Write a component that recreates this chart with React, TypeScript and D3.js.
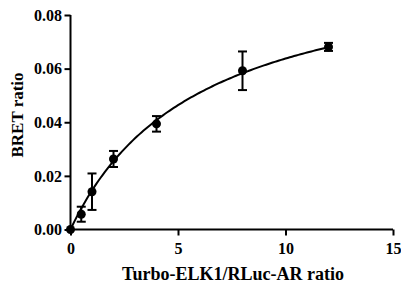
import React, { useEffect, useRef } from "react"
import * as d3 from "d3"

const ratios = [0, 0.5, 1, 2, 4, 8, 12]
const bretMeans = [0, 0.0057, 0.0141, 0.0263, 0.0394, 0.0592, 0.0681]
const bretErrors = [0, 0.0028, 0.0068, 0.003, 0.0029, 0.0072, 0.0015]
const xTicks = [0, 5, 10, 15]
const yTicks = [0, 0.02, 0.04, 0.06, 0.08]

// one-site saturation fit (Bmax * x / (Kd + x))
const fitBmax = 0.102
const fitKd = 6.0

const W = 401
const H = 284
const FONT = "Liberation Serif, Times New Roman, serif"

export default function App() {
  const svgRef = useRef<SVGSVGElement>(null)

  useEffect(() => {
    if (!svgRef.current) return
    const svg = d3.select(svgRef.current)
    svg.selectAll("*").remove()

    const x = d3.scaleLinear().domain([0, 15]).range([70.5, 393])
    const y = d3.scaleLinear().domain([0, 0.08]).range([229.5, 15])

    // axes
    const xAxis = svg.append("g")
      .attr("transform", `translate(0,${y(0)})`)
      .call(d3.axisBottom(x).tickValues(xTicks).tickSize(6).tickPadding(7).tickFormat(d3.format("d")))
    const yAxis = svg.append("g")
      .attr("transform", `translate(${x(0)},0)`)
      .call(d3.axisLeft(y).tickValues(yTicks).tickSize(6).tickPadding(2.5).tickFormat(d3.format(".2f")))

    for (const ax of [xAxis, yAxis]) {
      ax.attr("font-family", FONT).attr("font-size", 16).attr("font-weight", "bold")
      ax.select(".domain").attr("stroke", "#000").attr("stroke-width", 2)
      ax.selectAll(".tick line").attr("stroke", "#000").attr("stroke-width", 2)
      ax.selectAll(".tick text").attr("fill", "#000")
    }
    // GraphPad style: no outer tick caps
    xAxis.select(".domain").attr("d", `M${x(0)},0H${x(15)}`)
    yAxis.select(".domain").attr("d", `M0,${y(0)}V${y(0.08)}`)

    // fit curve
    const xs = d3.range(0, 12.0001, 0.1)
    const line = d3.line<number>()
      .x(d => x(d))
      .y(d => y(fitBmax * d / (fitKd + d)))
    svg.append("path")
      .datum(xs)
      .attr("fill", "none")
      .attr("stroke", "#000")
      .attr("stroke-width", 2)
      .attr("d", line)

    // error bars
    const g = svg.append("g")
    ratios.forEach((r, i) => {
      const e = bretErrors[i]
      if (!e) return
      const cx = x(r)
      const top = y(bretMeans[i] + e)
      const bot = y(bretMeans[i] - e)
      g.append("line").attr("x1", cx).attr("x2", cx).attr("y1", top).attr("y2", bot)
        .attr("stroke", "#000").attr("stroke-width", 2)
      for (const yy of [top, bot]) {
        g.append("line").attr("x1", cx - 4.5).attr("x2", cx + 4.5).attr("y1", yy).attr("y2", yy)
          .attr("stroke", "#000").attr("stroke-width", 2)
      }
    })

    // points
    svg.append("g")
      .selectAll("circle")
      .data(ratios)
      .enter().append("circle")
      .attr("cx", d => x(d))
      .attr("cy", (_, i) => y(bretMeans[i]))
      .attr("r", 4.5)
      .attr("fill", "#000")

    // axis titles
    svg.append("text")
      .attr("x", 233)
      .attr("y", 280)
      .attr("text-anchor", "middle")
      .attr("font-family", FONT)
      .attr("font-weight", "bold")
      .attr("font-size", 18)
      .text("Turbo-ELK1/RLuc-AR ratio")

    svg.append("text")
      .attr("transform", `translate(23,115) rotate(-90)`)
      .attr("text-anchor", "middle")
      .attr("font-family", FONT)
      .attr("font-weight", "bold")
      .attr("font-size", 17)
      .text("BRET ratio")
  }, [])

  return (
    <div style={{ position: "fixed", left: 0, top: 0 }}>
      <svg ref={svgRef} width={W} height={H} style={{ display: "block", background: "#fff" }} />
    </div>
  )
}
